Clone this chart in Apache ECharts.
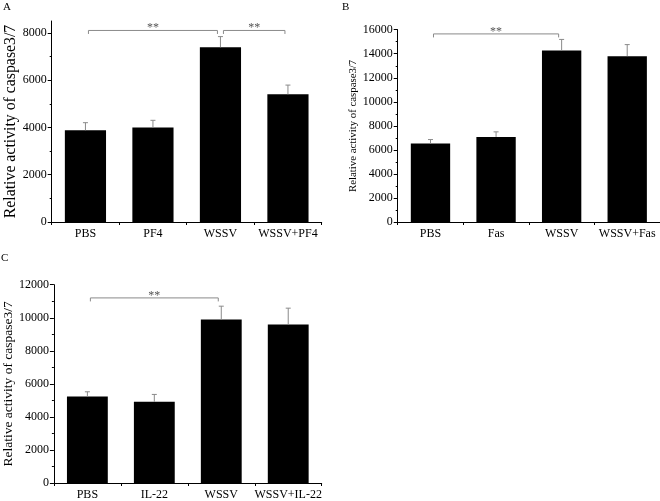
<!DOCTYPE html>
<html>
<head>
<meta charset="utf-8">
<script src="https://cdn.jsdelivr.net/npm/echarts@6/dist/echarts.min.js"></script>
<style>html,body{margin:0;padding:0;background:#fff}#c{width:660px;height:501px}</style>
</head>
<body>
<div id="c"></div>
<script>
// ---- data ----
const catsA = ['PBS', 'PF4', 'WSSV', 'WSSV+PF4'];
const valsA = [3880, 4000, 7390, 5400];
const errsA = [320, 300, 450, 390];
const sigA = [[0, 2, 8100], [2, 3, 8100]];
const ticksA = [0, 2000, 4000, 6000, 8000];

const catsB = ['PBS', 'Fas', 'WSSV', 'WSSV+Fas'];
const valsB = [6530, 7080, 14270, 13800];
const errsB = [330, 420, 920, 960];
const sigB = [[0, 2, 15650]];
const ticksB = [0, 2000, 4000, 6000, 8000, 10000, 12000, 14000, 16000];

const catsC = ['PBS', 'IL-22', 'WSSV', 'WSSV+IL-22'];
const valsC = [5230, 4910, 9890, 9590];
const errsC = [290, 450, 810, 990];
const sigC = [[0, 2, 11200]];
const ticksC = [0, 2000, 4000, 6000, 8000, 10000, 12000];

const yTitle = 'Relative activity of caspase3/7';
const panelLetters = ['A', 'B', 'C'];

// ---- rendering ----
const FONT = '"Liberation Serif", "Times New Roman", serif';
const ERR_COLOR = '#8a8a8a';

const panels = [
  {cats: catsA, vals: valsA, errs: errsA, sig: sigA, ticks: ticksA, max: 8500,
   grid: {left: 51.7, top: 21, width: 270, height: 201}, barW: '61%', titleSize: 15.8, nameGap: 33, labelMargin: 6},
  {cats: catsB, vals: valsB, errs: errsB, sig: sigB, ticks: ticksB, max: 16000,
   grid: {left: 397.7, top: 29.7, width: 262.3, height: 192.3}, barW: '60%', titleSize: 10.8, nameGap: 39, labelMargin: 6},
  {cats: catsC, vals: valsC, errs: errsC, sig: sigC, ticks: ticksC, max: 12000,
   grid: {left: 51.7, top: 284.7, width: 270, height: 199.3}, barW: '61%', titleSize: 13.5, nameGap: 37, labelMargin: 6}
];

function errRender(params, api) {
  const x = api.value(0), v = api.value(1), e = api.value(2);
  const p0 = api.coord([x, v]);
  const p1 = api.coord([x, v + e]);
  const half = 2.5;
  const st = {stroke: ERR_COLOR, lineWidth: 1};
  return {type: 'group', children: [
    {type: 'line', shape: {x1: p0[0], y1: p0[1], x2: p1[0], y2: p1[1]}, style: st},
    {type: 'line', shape: {x1: p1[0] - half, y1: p1[1], x2: p1[0] + half, y2: p1[1]}, style: st}
  ]};
}

function sigRender(params, api) {
  const i = api.value(0), j = api.value(1), lv = api.value(2);
  const a = api.coord([i, lv]);
  const b = api.coord([j, lv]);
  const inset = 3, drop = 3.5;
  const x1 = a[0] + inset, x2 = b[0] - inset, y = a[1];
  const st = {stroke: ERR_COLOR, lineWidth: 1, fill: null};
  return {type: 'group', children: [
    {type: 'polyline', shape: {points: [[x1, y + drop], [x1, y], [x2, y], [x2, y + drop]]}, style: st},
    {type: 'text', x: (x1 + x2) / 2, y: y - 2.5,
     style: {text: '**', fill: '#555', font: '12px ' + FONT, align: 'center', verticalAlign: 'middle'}}
  ]};
}

const grid = [], xAxis = [], yAxis = [], series = [];
panels.forEach((p, k) => {
  grid.push(p.grid);
  xAxis.push({
    type: 'category', gridIndex: k, data: p.cats, boundaryGap: true,
    axisLine: {lineStyle: {color: '#000', width: 1}},
    axisTick: {show: true, length: 3, lineStyle: {color: '#000'}},
    axisLabel: {color: '#000', fontFamily: FONT, fontSize: 12, margin: p.labelMargin, interval: 0},
    splitLine: {show: false}
  });
  yAxis.push({
    type: 'value', gridIndex: k, min: 0, max: p.max, interval: 2000,
    name: yTitle, nameLocation: 'middle', nameRotate: 90, nameGap: p.nameGap,
    nameTextStyle: {color: '#000', fontFamily: FONT, fontSize: p.titleSize},
    axisLine: {show: true, lineStyle: {color: '#000', width: 1}},
    axisTick: {show: true, length: 4, lineStyle: {color: '#000'}, customValues: p.ticks},
    minorTick: {show: true, splitNumber: 2, length: 2, lineStyle: {color: '#000'}},
    axisLabel: {color: '#000', fontFamily: FONT, fontSize: 12, margin: 5, customValues: p.ticks,
                formatter: v => String(v)},
    splitLine: {show: false}
  });
  series.push({
    type: 'bar', xAxisIndex: k, yAxisIndex: k, data: p.vals, barWidth: p.barW,
    itemStyle: {color: '#000'}, silent: true, animation: false
  });
  series.push({
    type: 'custom', xAxisIndex: k, yAxisIndex: k, renderItem: errRender,
    data: p.vals.map((v, i) => [i, v, p.errs[i]]), encode: {x: 0, y: 1}, z: 5, silent: true, animation: false
  });
  series.push({
    type: 'custom', xAxisIndex: k, yAxisIndex: k, renderItem: sigRender,
    data: p.sig, encode: {x: 0, y: 2}, z: 5, silent: true, animation: false
  });
});

const chart = echarts.init(document.getElementById('c'), null, {renderer: 'canvas'});
chart.setOption({
  backgroundColor: '#fff',
  animation: false,
  grid, xAxis, yAxis, series,
  graphic: [
    {type: 'text', left: 3, top: 2, style: {text: panelLetters[0], font: '11px ' + FONT, fill: '#000'}},
    {type: 'text', left: 342, top: 2, style: {text: panelLetters[1], font: '11px ' + FONT, fill: '#000'}},
    {type: 'text', left: 1, top: 253, style: {text: panelLetters[2], font: '11px ' + FONT, fill: '#000'}}
  ]
});
</script>
</body>
</html>
